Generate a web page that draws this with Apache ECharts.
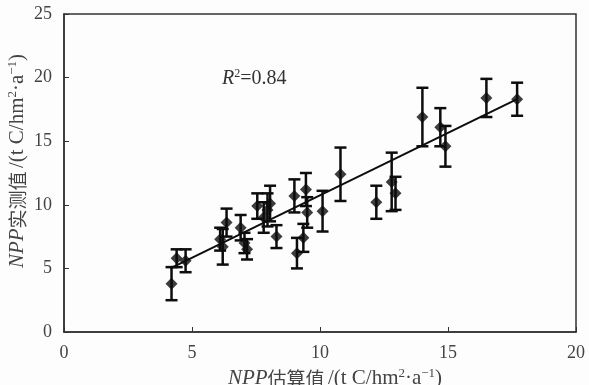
<!DOCTYPE html>
<html>
<head>
<meta charset="utf-8">
<script src="https://cdn.jsdelivr.net/npm/echarts@6/dist/echarts.min.js"></script>
<style>
  html, body { margin: 0; padding: 0; background: #fdfdfd; }
  #chart { width: 589px; height: 385px; }
</style>
</head>
<body>
<div id="chart"></div>
<script>
// NPP estimated (x), NPP measured (y), error bar half-width
const estimated = [4.2, 4.4, 4.75, 6.1, 6.2, 6.35, 6.9, 7.05, 7.15, 7.55, 7.8, 7.95, 8.05, 8.3, 9.0, 9.1, 9.35, 9.45, 9.5, 10.1, 10.8, 12.2, 12.8, 12.95, 14.0, 14.7, 14.9, 16.5, 17.7];
const measured = [3.8, 5.8, 5.6, 7.3, 6.7, 8.6, 8.2, 7.0, 6.5, 9.9, 9.0, 9.6, 10.1, 7.5, 10.7, 6.2, 7.4, 11.2, 9.4, 9.5, 12.4, 10.2, 11.8, 10.9, 16.9, 16.1, 14.6, 18.4, 18.3];
const errors = [1.3, 0.7, 0.9, 0.9, 1.4, 1.1, 1.0, 0.8, 0.8, 1.0, 1.2, 1.3, 1.4, 0.9, 1.3, 1.2, 1.1, 1.3, 1.2, 1.6, 2.1, 1.3, 2.3, 1.3, 2.3, 1.5, 1.6, 1.5, 1.3];
const fitLine = [[4.15, 5.0], [17.7, 18.3]];
const xTicks = [0, 5, 10, 15, 20];
const yTicks = [0, 5, 10, 15, 20, 25];

const ink = '#0d0d0d';
const frame = '#333';
const textColor = '#444';
const serif = '"Liberation Serif", "Times New Roman", "Noto Sans CJK SC", serif';

const chart = echarts.init(document.getElementById('chart'), undefined, { renderer: 'canvas' });

const points = estimated.map((x, i) => [x, measured[i]]);
const bars = estimated.map((x, i) => [x, measured[i] - errors[i], measured[i] + errors[i]]);

const axisCommon = {
  axisLine: { show: true, onZero: false, lineStyle: { color: frame, width: 1.5 } },
  axisTick: { show: true, inside: true, length: 5, lineStyle: { color: frame, width: 1 } },
  splitLine: { show: false },
  axisLabel: { color: textColor, fontFamily: serif, fontSize: 18 }
};

const nameRich = {
  i: { fontFamily: serif, fontStyle: 'italic', fontSize: 21, color: textColor },
  t: { fontFamily: serif, fontSize: 21, color: textColor },
  c: { fontFamily: '"Noto Sans CJK SC", sans-serif', fontSize: 19, color: textColor },
  sup: { fontFamily: serif, fontSize: 13, color: textColor, verticalAlign: 'top', padding: [0, 0, 10, 0] }
};

chart.setOption({
  backgroundColor: '#fdfdfd',
  animation: false,
  grid: {
    left: 64, right: 13, top: 14, bottom: 53,
    outerBoundsMode: 'none', containLabel: false,
    show: true, borderColor: frame, borderWidth: 1.5
  },
  xAxis: {
    type: 'value', min: 0, max: 20, interval: 5,
    ...axisCommon,
    axisLabel: { ...axisCommon.axisLabel, margin: 12, formatter: (v) => xTicks.includes(v) ? String(v) : '' },
    name: '{i|NPP}{c|估算值} {t|/(t C/hm}{sup|2}{t|·a}{sup|−1}{t|)}',
    nameLocation: 'middle', nameGap: 31,
    nameTextStyle: { rich: nameRich, padding: [0, 0, 0, 30] }
  },
  yAxis: {
    type: 'value', min: 0, max: 25, interval: 5,
    ...axisCommon,
    axisLabel: { ...axisCommon.axisLabel, margin: 12, formatter: (v) => yTicks.includes(v) ? String(v) : '' },
    name: '{i|NPP}{c|实测值} {t|/(t C/hm}{sup|2}{t|·a}{sup|−1}{t|)}',
    nameLocation: 'middle', nameGap: 35, nameRotate: 90, nameMoveOverlap: false,
    nameTextStyle: { rich: nameRich, padding: [0, 0, 0, 24] }
  },
  graphic: [{
    type: 'text', left: 222, top: 68,
    style: {
      text: '{i|R}{sup|2}{t|=0.84}',
      rich: {
        i: { fontFamily: serif, fontStyle: 'italic', fontSize: 20, fill: '#333' },
        t: { fontFamily: serif, fontSize: 20, fill: '#333' },
        sup: { fontFamily: serif, fontSize: 12, fill: '#333', verticalAlign: 'top', padding: [0, 0, 10, 0] }
      }
    }
  }],
  series: [
    {
      type: 'line', data: fitLine, symbol: 'none', silent: true,
      lineStyle: { color: ink, width: 2 }, z: 3
    },
    {
      type: 'custom', data: bars, z: 4,
      renderItem: (params, api) => {
        const x = api.value(0);
        const lo = api.coord([x, api.value(1)]);
        const hi = api.coord([x, api.value(2)]);
        const w = 6;
        const style = { stroke: ink, lineWidth: 2.5 };
        return {
          type: 'group',
          children: [
            { type: 'line', shape: { x1: lo[0], y1: lo[1], x2: hi[0], y2: hi[1] }, style },
            { type: 'line', shape: { x1: lo[0] - w, y1: lo[1], x2: lo[0] + w, y2: lo[1] }, style },
            { type: 'line', shape: { x1: hi[0] - w, y1: hi[1], x2: hi[0] + w, y2: hi[1] }, style }
          ]
        };
      }
    },
    {
      type: 'scatter', data: points, symbol: 'diamond', symbolSize: 12, z: 5,
      itemStyle: { color: ink }
    }
  ]
});
</script>
</body>
</html>
